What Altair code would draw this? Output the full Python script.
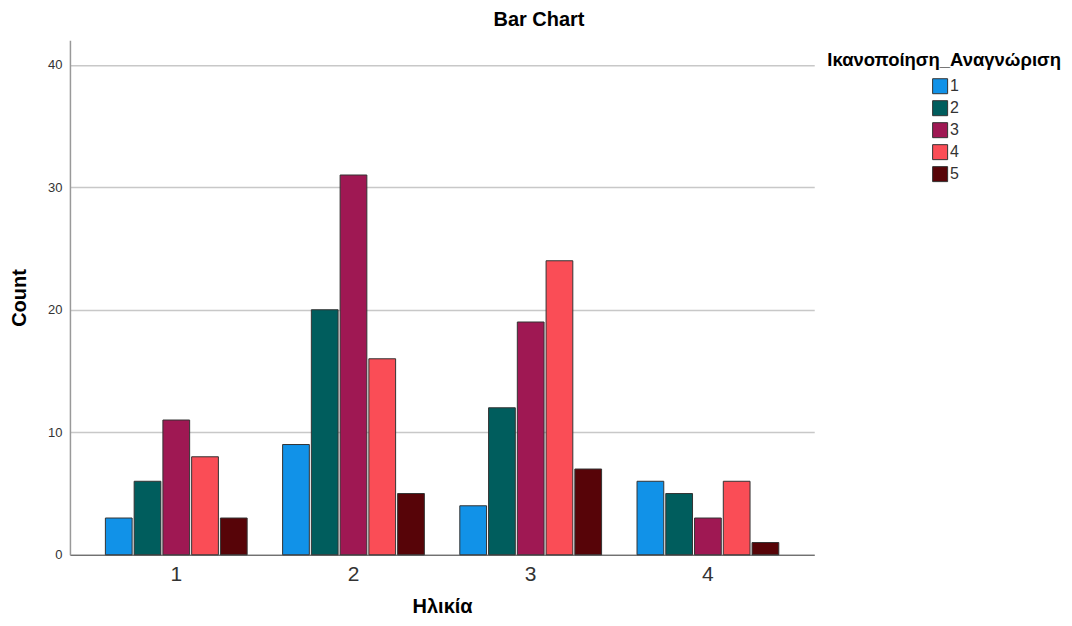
import altair as alt
import pandas as pd

ages = ["1", "2", "3", "4"]
levels = ["1", "2", "3", "4", "5"]
counts_age1 = [3, 6, 11, 8, 3]
counts_age2 = [9, 20, 31, 16, 5]
counts_age3 = [4, 12, 19, 24, 7]
counts_age4 = [6, 5, 3, 6, 1]
colors = ["#1192e8", "#005d5d", "#9f1853", "#fa4d56", "#570408"]
legend_title = "Ικανοποίηση_Αναγνώριση"

series = [counts_age1, counts_age2, counts_age3, counts_age4]
rows = []
for a, vals in zip(ages, series):
    for l, v in zip(levels, vals):
        rows.append({"age": a, "level": l, "count": v})
df = pd.DataFrame(rows)

bars = alt.Chart(df).mark_bar(stroke="#333333", strokeWidth=1).encode(
    x=alt.X(
        "age:N", sort=ages, title="Ηλικία",
        scale=alt.Scale(paddingInner=0.2, paddingOuter=0.2),
        axis=alt.Axis(labelAngle=0, ticks=False, domainColor="#555555", domainWidth=1.2,
                      labelFontSize=21, labelPadding=9, labelColor="#333333",
                      titlePadding=12, titleFontSize=20, titleFontWeight="bold",
                      titleColor="#000000", grid=False),
    ),
    xOffset=alt.XOffset("level:N", sort=levels, scale=alt.Scale(paddingInner=0.07, paddingOuter=0)),
    y=alt.Y(
        "count:Q", title="Count",
        scale=alt.Scale(domain=[0, 42], nice=False),
        axis=alt.Axis(values=[0, 10, 20, 30, 40], ticks=False, grid=True,
                      gridColor="#c8c8c8", gridWidth=1.5, domainColor="#999999", domainWidth=1.5,
                      labelFontSize=13, labelPadding=8, labelColor="#333333",
                      titleFontSize=20, titleFontWeight="bold", titlePadding=18,
                      titleColor="#000000"),
    ),
    color=alt.Color(
        "level:N", sort=levels,
        scale=alt.Scale(domain=levels, range=colors),
        legend=alt.Legend(
            title=None, orient="none", legendX=863, legendY=38,
            symbolType="square", symbolSize=225, symbolStrokeColor="#333333",
            symbolStrokeWidth=1, labelFontSize=16, labelColor="#333333",
            labelOffset=2, rowPadding=2,
        ),
    ),
)

legend_head = alt.Chart(pd.DataFrame({"t": [legend_title]})).mark_text(
    fontSize=18.5, fontWeight="bold", color="#000000", align="center", baseline="middle"
).encode(text="t:N", x=alt.value(875), y=alt.value(20))

chart = alt.layer(bars, legend_head).properties(
    width=745, height=515, autosize="none",
    padding={"left": 62, "top": 32, "right": 250, "bottom": 63},
    title=alt.TitleParams("Bar Chart", fontSize=20, fontWeight="bold", anchor="middle",
                          dx=97, offset=10, color="#000000"),
).configure(font="Liberation Sans").configure_view(stroke=None)

chart.save("out.html", embed_options={"renderer": "svg", "actions": False})
